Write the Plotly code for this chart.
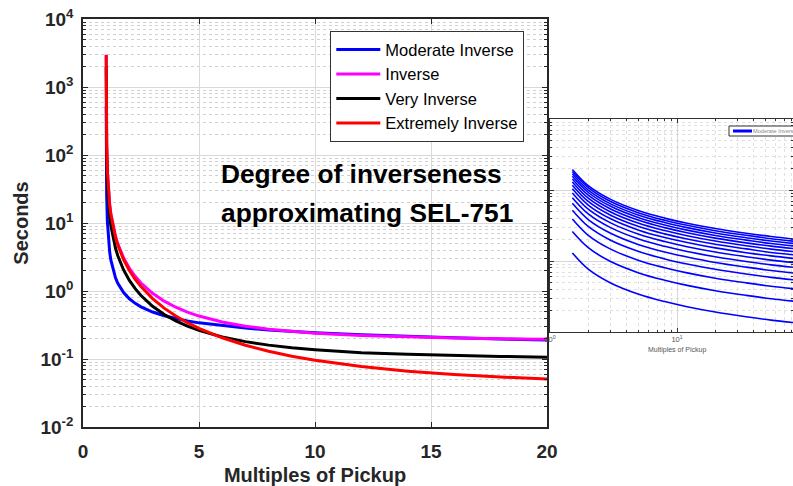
import plotly.graph_objects as go

# ---------------- main chart data ----------------
multiples = [1.001, 1.005, 1.01, 1.02, 1.05, 1.1, 1.15, 1.2, 1.3, 1.4, 1.5, 1.6, 1.75, 2, 2.25,
             2.5, 3, 3.5, 4, 4.5, 5, 6, 7, 8, 9, 10, 12, 14, 16, 18, 20]
moderate_inverse = [520, 104.3, 52.3, 26.3, 10.68, 5.47, 3.74, 2.87, 2.0, 1.563, 1.30, 1.124, 0.947, 0.768, 0.659,
                    0.585, 0.491, 0.432, 0.392, 0.363, 0.340, 0.308, 0.285, 0.268, 0.254, 0.243, 0.227, 0.2145, 0.205, 0.197, 0.191]
inverse = [2973, 594, 296, 147, 58.2, 28.5, 18.63, 13.7, 8.80, 6.38, 4.94, 3.99, 3.06, 2.16, 1.645,
           1.31, 0.924, 0.709, 0.577, 0.489, 0.428, 0.350, 0.304, 0.274, 0.254, 0.240, 0.222, 0.2105, 0.203, 0.198, 0.195]
very_inverse = [1999, 399, 199, 99.0, 39.1, 19.1, 12.5, 9.19, 5.89, 4.26, 3.30, 2.66, 2.04, 1.43, 1.081,
                0.858, 0.596, 0.452, 0.363, 0.304, 0.263, 0.211, 0.180, 0.160, 0.146, 0.137, 0.124, 0.117, 0.112, 0.109, 0.106]
extremely_inverse = [2950, 588.5, 293.5, 146.0, 57.6, 28.1, 18.33, 13.45, 8.59, 6.18, 4.76, 3.82, 2.90, 2.00, 1.488,
                     1.16, 0.774, 0.560, 0.429, 0.342, 0.282, 0.205, 0.159, 0.130, 0.110, 0.0956, 0.0773, 0.0663, 0.0591, 0.0543, 0.0508]

series_names = ["Moderate Inverse", "Inverse", "Very Inverse", "Extremely Inverse"]
series_colors = ["#0000ff", "#ff00ff", "#000000", "#ff0000"]

y_tick_vals = [1e-2, 1e-1, 1e0, 1e1, 1e2, 1e3, 1e4]
y_tick_text = ["10<sup>-2</sup>", "10<sup>-1</sup>", "10<sup>0</sup>", "10<sup>1</sup>",
               "10<sup>2</sup>", "10<sup>3</sup>", "10<sup>4</sup>"]
x_tick_vals = [0, 5, 10, 15, 20]

# ---------------- inset data (time-dial family, Moderate Inverse) ----------------
inset_multiples = [1.5, 2, 3, 5, 8, 12, 20, 35, 55, 85]
time_dials = list(range(1, 16))
inset_times = [
    [1.30, 0.768, 0.491, 0.340, 0.268, 0.227, 0.191, 0.164, 0.147, 0.135],
    [2.60, 1.54, 0.982, 0.680, 0.536, 0.454, 0.382, 0.328, 0.294, 0.270],
    [3.90, 2.30, 1.47, 1.02, 0.804, 0.681, 0.573, 0.492, 0.441, 0.405],
    [5.20, 3.07, 1.96, 1.36, 1.07, 0.908, 0.764, 0.656, 0.588, 0.540],
    [6.50, 3.84, 2.46, 1.70, 1.34, 1.14, 0.955, 0.820, 0.735, 0.675],
    [7.80, 4.61, 2.95, 2.04, 1.61, 1.36, 1.15, 0.984, 0.882, 0.810],
    [9.10, 5.38, 3.44, 2.38, 1.88, 1.59, 1.34, 1.15, 1.03, 0.945],
    [10.4, 6.14, 3.93, 2.72, 2.14, 1.82, 1.53, 1.31, 1.18, 1.08],
    [11.7, 6.91, 4.42, 3.06, 2.41, 2.04, 1.72, 1.48, 1.32, 1.22],
    [13.0, 7.68, 4.91, 3.40, 2.68, 2.27, 1.91, 1.64, 1.47, 1.35],
    [14.3, 8.45, 5.40, 3.74, 2.95, 2.50, 2.10, 1.80, 1.62, 1.49],
    [15.6, 9.22, 5.89, 4.08, 3.22, 2.72, 2.29, 1.97, 1.76, 1.62],
    [16.9, 9.98, 6.38, 4.42, 3.48, 2.95, 2.48, 2.13, 1.91, 1.76],
    [18.2, 10.8, 6.87, 4.76, 3.75, 3.18, 2.67, 2.30, 2.06, 1.89],
    [19.5, 11.5, 7.37, 5.10, 4.02, 3.41, 2.87, 2.46, 2.21, 2.03],
]
inset_x_tick_vals = [1, 10]
inset_x_tick_text = ["10<sup>0</sup>", "10<sup>1</sup>"]
inset_legend_label = "Moderate Inverse"

FONT = "Liberation Sans, Arial, sans-serif"
AXIS_COLOR = "#262626"

fig = go.Figure()

for name, ys, col in zip(series_names,
                         [moderate_inverse, inverse, very_inverse, extremely_inverse],
                         series_colors):
    fig.add_trace(go.Scatter(x=multiples, y=ys, name=name, mode="lines",
                             line=dict(color=col, width=3), xaxis="x", yaxis="y"))

for i, (td, ys) in enumerate(zip(time_dials, inset_times)):
    fig.add_trace(go.Scatter(x=inset_multiples, y=ys, name="%s TD=%d" % (inset_legend_label, td),
                             mode="lines", line=dict(color="#0000ff", width=1.6, shape="spline"),
                             xaxis="x2", yaxis="y2", showlegend=False))

minor_main = [k * 10.0 ** e for e in range(-2, 4) for k in range(2, 10)]
minor_inset_y = [k * 10.0 ** e for e in range(-1, 2) for k in range(2, 10)]
minor_inset_x = [k * 10.0 ** e for e in range(0, 2) for k in range(2, 10)]

W, H = 793, 486
L, R, T, B = 83, 0, 19, 59
PW = W - L - R
PH = H - T - B


def px_x(p):
    return (p - L) / PW


def px_y(p):
    return (H - B - p) / PH


fig.update_layout(
    width=W, height=H,
    margin=dict(l=L, r=R, t=T, b=B, autoexpand=False),
    paper_bgcolor="white", plot_bgcolor="white",
    font=dict(family=FONT, color=AXIS_COLOR),
    xaxis=dict(
        domain=[0, px_x(547)], range=[0, 20], tickmode="array", tickvals=x_tick_vals,
        ticks="inside", ticklen=5, tickwidth=1, tickcolor=AXIS_COLOR,
        showline=True, linecolor=AXIS_COLOR, linewidth=1.5, mirror="allticks",
        showgrid=True, gridcolor="#d9d9d9", gridwidth=1, zeroline=False,
        tickfont=dict(size=19, weight="bold", color=AXIS_COLOR), ticklabelstandoff=6,
        title=dict(text="Multiples of Pickup", font=dict(size=20, weight="bold", color=AXIS_COLOR),
                   standoff=7),
    ),
    yaxis=dict(
        type="log", domain=[0, 1], range=[-2, 4], tickmode="array",
        tickvals=y_tick_vals, ticktext=y_tick_text,
        ticks="inside", ticklen=5, tickwidth=1, tickcolor=AXIS_COLOR,
        showline=True, linecolor=AXIS_COLOR, linewidth=1.5, mirror="allticks",
        showgrid=True, gridcolor="#d9d9d9", gridwidth=1, zeroline=False,
        tickfont=dict(size=19, weight="bold", color=AXIS_COLOR), ticklabelstandoff=4,
        minor=dict(tickmode="array", tickvals=minor_main, ticks="inside", ticklen=3,
                   tickcolor=AXIS_COLOR, showgrid=True, gridcolor="#d0d0d0", griddash="dot",
                   gridwidth=1),
        title=dict(text="Seconds", font=dict(size=20, weight="bold", color=AXIS_COLOR), standoff=6),
    ),
    xaxis2=dict(
        type="log", domain=[px_x(550), 1], range=[0, 1.913], anchor="y2",
        tickmode="array", tickvals=inset_x_tick_vals, ticktext=inset_x_tick_text,
        ticks="inside", ticklen=4, tickcolor="#333333",
        showline=True, linecolor="#333333", linewidth=1.2, mirror="allticks",
        showgrid=True, gridcolor="#d6d6d6", zeroline=False,
        tickfont=dict(size=7.5, color="#555555"), ticklabelstandoff=0,
        minor=dict(tickmode="array", tickvals=minor_inset_x, ticks="inside", ticklen=2,
                   tickcolor="#333333", showgrid=True, gridcolor="#e0e0e0", griddash="dot"),
    ),
    yaxis2=dict(
        type="log", domain=[px_y(332), px_y(119)], range=[-1, 2], anchor="x2",
        tickmode="array", tickvals=[0.1, 1, 10, 100], showticklabels=False,
        ticks="inside", ticklen=4, tickcolor="#333333",
        showline=True, linecolor="#333333", linewidth=1.2, mirror="allticks",
        showgrid=True, gridcolor="#d6d6d6", zeroline=False,
        minor=dict(tickmode="array", tickvals=minor_inset_y, ticks="inside", ticklen=2,
                   tickcolor="#333333", showgrid=True, gridcolor="#e0e0e0", griddash="dot"),
    ),
    legend=dict(
        x=px_x(330), y=px_y(31), xanchor="left", yanchor="top",
        bgcolor="white", bordercolor="#333333", borderwidth=1.3, itemwidth=44,
        font=dict(size=16.5, color="#000000", family=FONT), tracegroupgap=0,
    ),
    shapes=[
        # inset legend box and sample line
        dict(type="rect", xref="paper", yref="paper", x0=px_x(729), x1=px_x(805),
             y0=px_y(136), y1=px_y(126), line=dict(color="#333333", width=1), fillcolor="white",
             layer="above"),
        dict(type="line", xref="paper", yref="paper", x0=px_x(733), x1=px_x(752),
             y0=px_y(131), y1=px_y(131), line=dict(color="#0000ff", width=3), layer="above"),
    ],
    annotations=[
        dict(text="Degree of inverseness", xref="paper", yref="paper",
             x=px_x(219), y=px_y(157), xanchor="left", yanchor="top", align="left", showarrow=False,
             font=dict(size=26.3, weight="bold", color="#000000", family=FONT)),
        dict(text="approximating SEL-751", xref="paper", yref="paper",
             x=px_x(219), y=px_y(196), xanchor="left", yanchor="top", align="left", showarrow=False,
             font=dict(size=26.3, weight="bold", color="#000000", family=FONT)),
        dict(text="Multiples of Pickup", xref="paper", yref="paper",
             x=px_x(677), y=px_y(350), xanchor="center", yanchor="middle", showarrow=False,
             font=dict(size=7, color="#555555", family=FONT)),
        dict(text=inset_legend_label, xref="paper", yref="paper",
             x=px_x(751), y=px_y(131), xanchor="left", yanchor="middle", showarrow=False,
             font=dict(size=5.6, color="#888888", family=FONT)),
    ],
)

fig.write_html("out.html")
